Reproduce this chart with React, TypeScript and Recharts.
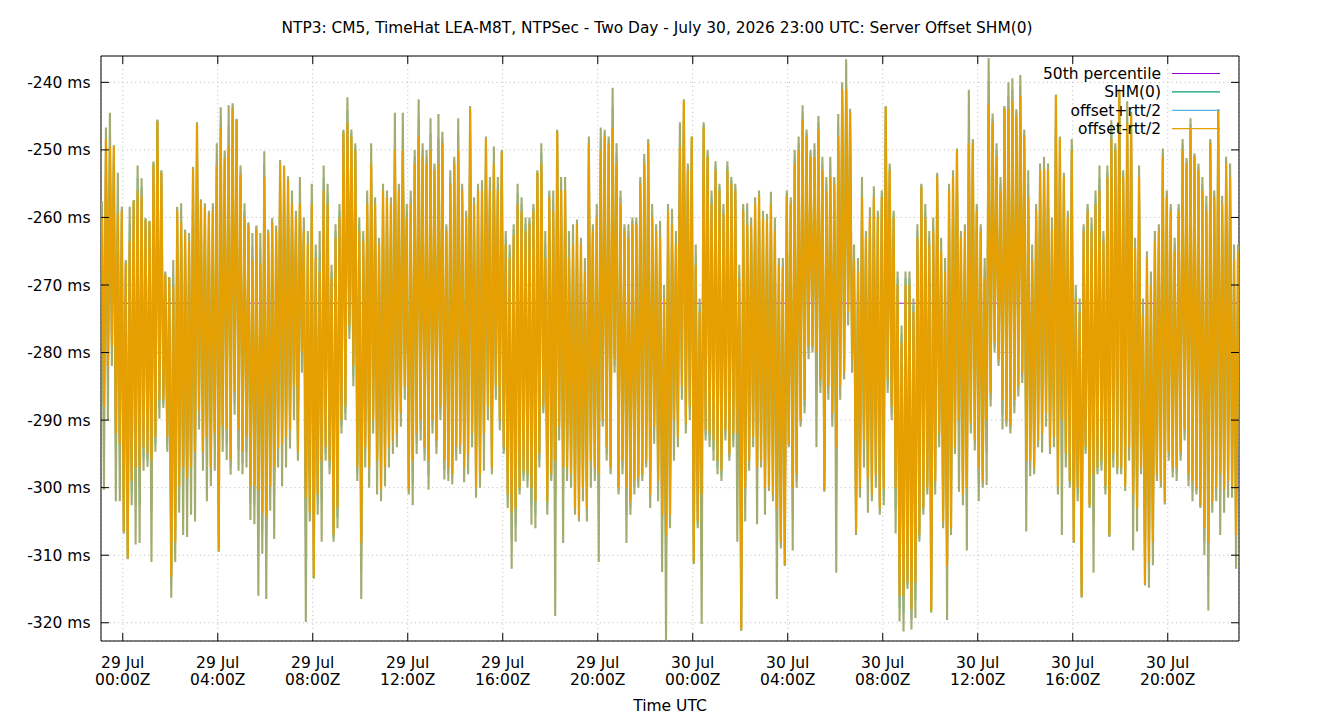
import { CartesianGrid, Legend, Line, LineChart, ReferenceArea, XAxis, YAxis } from "recharts";

const FONT = "'DejaVu Sans', sans-serif";
const W = 1340;
const H = 720;
const Y_AXIS_W = 101;
const X_AXIS_H = 79;
const PLOT = { left: 101, right: W - 101, top: 56, bottom: H - X_AXIS_H };

// time axis is minutes from 29 Jul 00:00Z, one bucket every 10 min
const T0 = -55;
const STEP = 10;
const X_DOMAIN: [number, number] = [-55, 2820];
const Y_DOMAIN: [number, number] = [-322.7, -236.1];

const X_TICKS = [0, 240, 480, 720, 960, 1200, 1440, 1680, 1920, 2160, 2400, 2640];
const X_TICK_DAYS = ["29 Jul", "29 Jul", "29 Jul", "29 Jul", "29 Jul", "29 Jul", "30 Jul", "30 Jul", "30 Jul", "30 Jul", "30 Jul", "30 Jul"];
const X_TICK_TIMES = ["00:00Z", "04:00Z", "08:00Z", "12:00Z", "16:00Z", "20:00Z", "00:00Z", "04:00Z", "08:00Z", "12:00Z", "16:00Z", "20:00Z"];
const Y_TICKS = [-320, -310, -300, -290, -280, -270, -260, -250, -240];

const P50 = -272.7;

// offset-rtt/2 per bucket: highest and lowest sample (ms)
const minusHi = [
  -260, -248.4, -249.5, -249.5, -259.5, -259, -266.8, -263.5, -257.6, -256, -256.8, -260.4,
  -260.7, -252.3, -245.8, -253.4, -268.5, -269, -270.2, -259, -260.7, -262.3, -263.5, -252.8,
  -246.1, -257.6, -258.4, -259.6, -259, -252.3, -246.7, -251.2, -249.5, -243.9, -245.6, -253.7,
  -260.1, -261.2, -266.3, -261.8, -266.8, -254, -262.3, -260.7, -262, -252, -252.5, -254.5,
  -257.9, -260, -258, -262, -264, -258, -266, -268, -256, -258, -269, -263,
  -260, -247.5, -245.9, -248, -250, -262, -263.5, -258, -252, -258, -264, -256,
  -257, -258, -250, -256, -250, -260, -258, -252, -248, -251, -252, -250,
  -253, -252, -249, -262, -255, -252, -250, -256, -260, -243.9, -258, -256,
  -256, -248.4, -256, -252, -256, -250.3, -264, -266, -262.6, -258, -259, -262,
  -261, -259, -253.4, -252, -266, -257, -259, -247.3, -256, -256, -266, -264,
  -261, -264, -268, -249, -262, -260, -250, -248, -249, -246.7, -252, -258,
  -262, -263, -261, -261, -255, -252, -249, -260, -262, -263, -272, -259,
  -261, -264, -249.5, -242.8, -253, -248.1, -267, -274, -246.7, -251, -258, -253,
  -256, -259.5, -253, -255, -256, -269, -259, -261, -261.2, -258, -256.8, -260,
  -260.5, -258, -262, -267, -267.4, -256.8, -258, -252, -250, -245.5, -248, -251,
  -251, -247, -253, -256, -254, -255, -248, -241.1, -241, -244.5, -266.3, -268,
  -257, -263, -260, -257, -260, -257, -243.7, -253, -260, -270, -278.5, -270,
  -270, -274, -263, -255.5, -260, -264, -262, -254, -265, -268, -256, -254,
  -250, -263, -262, -249, -249, -259, -262, -269, -243.3, -246, -251, -256,
  -243.9, -244, -242.8, -245, -242, -248, -257, -266.3, -259, -253, -252.8, -253,
  -261.8, -242, -248.4, -254, -260, -250, -272, -274, -262, -259, -262, -258,
  -256, -263.5, -254, -248.4, -250, -241.1, -254, -246, -244.6, -264.6, -254, -274.6,
  -266, -270, -263.5, -262, -251, -257, -259, -265, -259, -250, -252, -247,
  -251, -253, -256, -259, -249, -257, -244.2, -258, -252, -254, -266.3, -265,
];

const minusLo = [
  -288, -282, -279, -292, -293.6, -306.5, -310.4, -299, -297, -297, -294, -295,
  -295.9, -292.5, -287, -287, -292.5, -313.2, -308, -299.8, -297, -298.6, -297, -294.7,
  -288.6, -294.7, -292.5, -297, -292, -309.3, -290.8, -291.4, -295.9, -285.8, -291.4, -294.7,
  -292.5, -299.8, -299.8, -300.4, -303.7, -304.3, -299.8, -297, -294.2, -293.6, -292.5, -291.4,
  -285, -294.7, -280, -301.5, -303.7, -313.2, -301, -296, -294, -296, -307, -303,
  -290, -288, -276, -282, -297, -308.2, -294, -297, -290, -296, -300.3, -297,
  -294, -293, -292, -289, -285, -300.3, -296, -292, -290, -294, -296, -290,
  -293, -288, -296, -297, -298, -294, -293.6, -297, -295, -292, -300, -298,
  -292, -288, -297, -285, -290, -294, -301, -303.7, -303, -300, -297.5, -298,
  -300, -302, -295, -288, -302, -298, -296, -291, -297, -297, -298, -303,
  -304.3, -300, -303, -296, -297, -298, -290, -294, -297, -281, -300, -296,
  -300, -302, -299, -298.5, -298, -296, -301, -291, -299, -304, -307, -304,
  -290, -292.5, -285, -290.5, -288, -311, -305, -301, -291.5, -292, -293, -296,
  -297.5, -291.5, -295, -292, -292, -321, -300, -296, -292.5, -297, -296, -300,
  -299.8, -301, -303, -308, -311.4, -293.5, -300, -298, -290, -287, -279, -279,
  -280, -284, -300.3, -285, -289, -294, -285, -283, -274, -281, -306.5, -300,
  -293, -298.6, -301, -298.1, -303, -300.3, -284, -288, -300, -316, -316, -314,
  -318, -314, -307, -303, -300, -318.2, -299, -292, -305, -311.6, -306, -294,
  -290, -301, -300, -290.5, -293, -297, -299, -290, -286, -278.5, -281, -287,
  -290, -290.8, -287, -285, -283, -296, -296, -297, -293, -292, -289, -294,
  -292.5, -299.8, -290, -295, -299, -308, -300, -316, -294, -302.6, -298, -297,
  -296, -299.8, -307, -295, -297, -297, -299.8, -294, -301, -303, -297, -314.2,
  -311, -308, -298, -299, -302, -294.7, -297, -297, -294.7, -291.4, -298, -299,
  -300, -302.6, -306, -308, -302, -300, -298, -300.3, -299, -300, -307, -294.7,
];

// offset+rtt/2 per bucket: highest and lowest sample (ms)
const plusHi = [
  -257.6, -246.7, -244.5, -249.3, -253.4, -258.4, -266.3, -258.4, -257.4, -252.3, -254.2, -260.1,
  -260.5, -251.7, -245.5, -253, -268, -268.8, -266.3, -258.4, -257.9, -261.8, -262.3, -252.5,
  -245.9, -257.3, -257.9, -259, -257.9, -249, -243.7, -250.1, -243.4, -243.1, -245.4, -252.3,
  -257.9, -260.7, -262.3, -261.2, -262.3, -250.2, -261.8, -260.1, -261.2, -251.5, -252.3, -253.9,
  -256, -259, -254, -260, -262, -255, -264, -262, -252.3, -255, -267, -261,
  -258, -247, -242.2, -247, -249, -260, -262, -256, -249, -257, -263, -255,
  -256, -257, -244.5, -255, -244.5, -258, -256, -250, -242.5, -249, -250, -245.3,
  -252, -244.7, -247.3, -261, -253, -251, -245.3, -255, -259, -243.5, -257, -255,
  -254.5, -248, -254, -249.5, -254, -250, -262, -264, -261, -255, -257, -260,
  -260, -258, -253, -249, -262, -256, -256, -247, -254, -254, -262, -261,
  -260.3, -263, -266, -248, -261, -258, -246.7, -247, -248, -240.8, -249, -256,
  -261, -261, -260, -260, -254, -250.6, -248.4, -258, -261, -260.5, -270, -258,
  -258.7, -262, -245.9, -242.5, -252, -248, -264, -272, -245.9, -250, -256, -251.7,
  -255, -258, -251.7, -254, -255, -267, -258, -257.9, -260, -257, -256, -259,
  -259.5, -256.2, -260, -266, -266, -256, -257, -250, -248, -243.4, -247, -250,
  -249, -245, -251, -254, -251, -254, -244.7, -240, -236.6, -243.9, -264, -266,
  -254, -262, -258.5, -255.4, -259, -256, -243.5, -252, -259, -268, -276, -268,
  -268, -272, -261, -255, -258, -262, -260, -253.4, -263, -266, -255, -253,
  -249.8, -262, -261, -241.1, -248.4, -258, -261, -266, -236.4, -244.6, -249, -254,
  -243.5, -240, -239.4, -244, -238.9, -247, -253, -264, -258, -252, -251, -252,
  -260, -241.8, -248, -253.4, -259, -248.4, -270, -272, -261, -258, -260, -256,
  -252.3, -262, -252.3, -245.6, -249, -241, -253, -242.8, -244.3, -263, -252.3, -272,
  -265, -268, -262, -261, -249.8, -256, -258, -263, -258, -248.4, -251.2, -245.3,
  -250.5, -252, -254, -256.8, -248.4, -256, -244, -256.8, -251, -252, -264, -264,
];

const plusLo = [
  -300.3, -290, -282, -302, -302, -306.8, -310.6, -302.6, -308.4, -308.2, -297.5, -296.9,
  -311, -294.7, -289.8, -288.2, -294.7, -316.3, -311, -303.7, -307, -307.3, -304, -305,
  -291.4, -297.5, -302, -299.8, -297.5, -309.5, -294.7, -295.9, -298.1, -289.2, -297.5, -298,
  -297, -304.8, -305.4, -316, -309.8, -316.5, -303.4, -307.6, -297, -299.8, -297, -294.2,
  -290, -296, -283, -319.9, -305, -313.5, -304, -308, -296, -298, -308, -306,
  -292, -290, -278, -285, -299, -316.5, -297, -300, -292, -301, -302, -299.8,
  -297, -295, -294, -291, -287, -301, -302.6, -295, -293, -296, -300.3, -292,
  -295, -290, -298.8, -299, -299.5, -296, -295, -299.2, -298, -294, -301.5, -300,
  -297.5, -290, -298, -287, -291.5, -295, -303, -312, -308, -301, -299, -300,
  -305.5, -306, -297, -289, -304, -299, -319, -293, -308.2, -299, -300, -304,
  -305, -302, -305, -300, -299, -311, -291, -296, -298, -283, -301, -298,
  -308.2, -304, -301, -300, -299, -297, -303, -293.5, -302, -312.5, -322.6, -306,
  -296, -294, -287, -292, -290, -311.3, -306, -320.2, -293, -294, -296, -298,
  -299, -293, -296, -294, -308, -321.2, -305, -297.5, -294, -305.4, -297, -304,
  -300.5, -302, -316.5, -309, -311.6, -294, -309.3, -300, -291, -289, -281, -280,
  -294, -286, -300.6, -287, -291, -312.6, -287, -284, -276, -283, -307, -301.5,
  -297, -303.7, -302, -300, -304, -302.6, -286, -290, -306.8, -319.8, -321.3, -315,
  -321, -319.3, -308, -304, -301, -318.5, -301, -294, -306, -319.6, -307, -295,
  -300.6, -302.6, -309.3, -292, -294.5, -302, -300, -299.6, -288, -280, -282, -291.4,
  -291, -292, -289, -286.5, -284.5, -306.5, -298.3, -298, -294, -294.8, -291, -295,
  -294, -301, -307, -297, -300, -308.2, -302, -316.3, -295, -303, -312.6, -298,
  -297.5, -301, -307.3, -297, -298, -298, -300.5, -296, -309.3, -306.5, -298, -314.5,
  -314.8, -311.5, -299, -300, -302.5, -296, -298.5, -299, -296, -293, -299.8, -302,
  -301, -303, -310, -318.2, -303.7, -302, -307, -303.7, -301.5, -301.5, -312, -297,
];

const SERIES = [
  { key: "p50", name: "50th percentile", color: "#9400d3", draw: "#9400d3", width: 1 },
  { key: "shm", name: "SHM(0)", color: "#009e73", draw: "#009e73", width: 1.6 },
  { key: "plus", name: "offset+rtt/2", color: "#56b4e9", draw: "#a3ab6e", width: 2.1 },
  { key: "minus", name: "offset-rtt/2", color: "#e69f00", draw: "#e69f00", width: 2.1 },
];

// each bucket becomes a high sample then a low sample
const rows = minusHi.flatMap((_, i) => {
  const t = T0 + i * STEP;
  return [
    { t: t + STEP * 0.25, minus: minusHi[i], plus: plusHi[i] },
    { t: t + STEP * 0.75, minus: minusLo[i], plus: plusLo[i] },
  ];
}).map((r) => ({ ...r, shm: (r.minus + r.plus) / 2, p50: P50 }));

const TEXT = { fontFamily: FONT, fontSize: 15.5, fill: "#000" };

function TimeTick(props: any) {
  const { x, index } = props;
  return (
    <g>
      <line x1={x} x2={x} y1={PLOT.bottom} y2={PLOT.bottom - 8} stroke="#000" />
      <line x1={x} x2={x} y1={PLOT.top} y2={PLOT.top + 8} stroke="#000" />
      <text x={x} y={667.5} textAnchor="middle" style={TEXT}>{X_TICK_DAYS[index]}</text>
      <text x={x} y={685} textAnchor="middle" style={TEXT}>{X_TICK_TIMES[index]}</text>
    </g>
  );
}

function MsTick(props: any) {
  const { y, payload } = props;
  return (
    <g>
      <line x1={PLOT.left} x2={PLOT.left + 8} y1={y} y2={y} stroke="#000" />
      <line x1={PLOT.right} x2={PLOT.right - 8} y1={y} y2={y} stroke="#000" />
      <text x={90.5} y={y + 5.5} textAnchor="end" style={TEXT}>{`${payload.value} ms`}</text>
    </g>
  );
}

function KeyBox() {
  return (
    <svg width={230} height={80}>
      {SERIES.map((s, i) => {
        const cy = 11.5 + i * 18.4;
        return (
          <g key={s.key}>
            <text x={161} y={cy + 5.5} textAnchor="end" style={TEXT}>{s.name}</text>
            <line x1={172} x2={220} y1={cy} y2={cy} stroke={s.color} strokeWidth={1.2} />
          </g>
        );
      })}
    </svg>
  );
}

export default function App() {
  return (
    <div style={{ position: "absolute", left: 0, top: 0, width: W, height: H, background: "#fff" }}>
      <LineChart
        width={W}
        height={H}
        data={rows}
        margin={{ top: PLOT.top, right: W - PLOT.right, bottom: 0, left: 0 }}
      >
        <CartesianGrid stroke="#b8b8b8" strokeDasharray="1 3.3" />
        <XAxis
          type="number"
          dataKey="t"
          domain={X_DOMAIN}
          ticks={X_TICKS}
          allowDataOverflow
          height={X_AXIS_H}
          axisLine={false}
          tickLine={false}
          tick={(p: any) => <TimeTick {...p} />}
          label={{ value: "Time UTC", position: "insideBottom", offset: 9, style: TEXT }}
        />
        <YAxis
          type="number"
          domain={Y_DOMAIN}
          ticks={Y_TICKS}
          allowDataOverflow
          width={Y_AXIS_W}
          axisLine={false}
          tickLine={false}
          tick={(p: any) => <MsTick {...p} />}
        />
        {SERIES.map((s) => (
          <Line
            key={s.key}
            type="linear"
            dataKey={s.key}
            name={s.name}
            stroke={s.draw}
            strokeWidth={s.width}
            strokeLinejoin="bevel"
            dot={false}
            activeDot={false}
            isAnimationActive={false}
          />
        ))}
        <ReferenceArea
          x1={X_DOMAIN[0]}
          x2={X_DOMAIN[1]}
          y1={Y_DOMAIN[0]}
          y2={Y_DOMAIN[1]}
          fill="none"
          fillOpacity={0}
          stroke="#000"
          strokeWidth={1}
        />
        <Legend
          layout="horizontal"
          verticalAlign="middle"
          align="center"
          wrapperStyle={{ position: "absolute", left: 1000, top: 62, width: 230, height: 80 }}
          content={() => <KeyBox />}
        />
      </LineChart>
      <svg
        width={W}
        height={H}
        style={{ position: "absolute", left: 0, top: 0, pointerEvents: "none" }}
      >
        <text x={657} y={33} textAnchor="middle" style={{ ...TEXT, fontSize: 15.4 }}>
          NTP3: CM5, TimeHat LEA-M8T, NTPSec - Two Day - July 30, 2026 23:00 UTC: Server Offset SHM(0)
        </text>
      </svg>
    </div>
  );
}
